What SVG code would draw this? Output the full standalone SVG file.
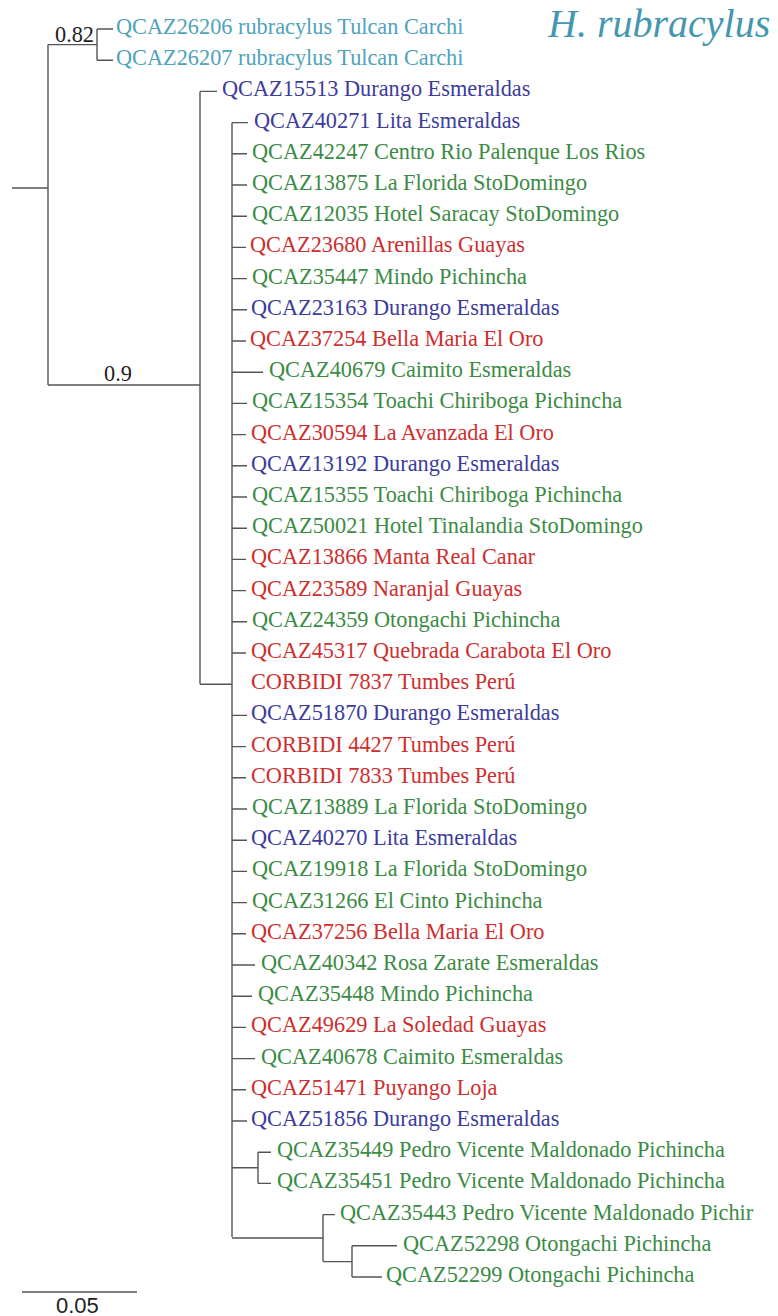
<svg xmlns="http://www.w3.org/2000/svg" width="778" height="1316" viewBox="0 0 778 1316">
<style>
text{font-family:"Liberation Serif","Times New Roman",serif;font-size:22.3px}
.t{fill:#4fa3ba}.b{fill:#3c3c9c}.g{fill:#3b8b45}.r{fill:#cf2e2e}.k{fill:#222}
.ttl{font-style:italic;font-size:40px;fill:#4596b0}
.sc{font-family:"Liberation Sans",Arial,sans-serif;font-size:22px;fill:#222}
.ln{fill:none;stroke:#555;stroke-width:1.4}
</style>
<rect width="778" height="1316" fill="#fff"/>
<g id="connectors" class="ln">
<path d="M12 188H48M48 44.6V385M48 44.6H97M97 29V60.2M97 29H113M97 60.2H113M48 385H200M200 91.4V684.2M200 91.4H217M200 684.2H232M232 122.6V1237"/>
<path d="M232 122.6H248M232 153.8H247M232 185H247M232 216.2H247M232 247.4H246M232 278.6H247M232 309.8H247M232 341H246M232 372.2H263M232 403.4H247M232 434.6H246M232 465.8H247M232 497H247M232 528.2H247M232 559.4H246M232 590.6H246M232 621.8H247M232 653H246M232 715.4H247M232 746.6H246M232 777.8H246M232 809H247M232 840.2H247M232 871.4H247M232 902.6H247M232 933.8H246M232 965H255M232 996.2H252M232 1027.4H246M232 1058.6H255M232 1089.8H246M232 1121H247"/>
<path d="M232 1167.8H258M258 1152.2V1183.4M258 1152.2H271M258 1183.4H271M232 1238H323M323 1214.6V1261.6M323 1214.6H335M323 1261.6H352M352 1245.8V1277M352 1245.8H397M352 1277H382"/>
<path d="M22 1292H137"/>
</g>
<g id="labels">
<text class="k" x="55" y="42">0.82</text>
<text class="k" x="104" y="381">0.9</text>
<text class="ttl" x="548" y="37">H. rubracylus</text>
<text class="sc" x="56" y="1313">0.05</text>
</g>
<g id="tips">
<g id="n1"><text class="t" x="116" y="34">QCAZ26206 rubracylus Tulcan Carchi</text></g>
<g id="n2"><text class="t" x="116" y="65.2">QCAZ26207 rubracylus Tulcan Carchi</text></g>
<g id="n3"><text class="b" x="222" y="96.4">QCAZ15513 Durango Esmeraldas</text></g>
<g id="n4"><text class="b" x="254" y="127.6">QCAZ40271 Lita Esmeraldas</text></g>
<g id="n5"><text class="g" x="252" y="158.8">QCAZ42247 Centro Rio Palenque Los Rios</text></g>
<g id="n6"><text class="g" x="252" y="190">QCAZ13875 La Florida StoDomingo</text></g>
<g id="n7"><text class="g" x="252" y="221.2">QCAZ12035 Hotel Saracay StoDomingo</text></g>
<g id="n8"><text class="r" x="250" y="252.4">QCAZ23680 Arenillas Guayas</text></g>
<g id="n9"><text class="g" x="252" y="283.6">QCAZ35447 Mindo Pichincha</text></g>
<g id="n10"><text class="b" x="251" y="314.8">QCAZ23163 Durango Esmeraldas</text></g>
<g id="n11"><text class="r" x="250" y="346">QCAZ37254 Bella Maria El Oro</text></g>
<g id="n12"><text class="g" x="269" y="377.2">QCAZ40679 Caimito Esmeraldas</text></g>
<g id="n13"><text class="g" x="252" y="408.4">QCAZ15354 Toachi Chiriboga Pichincha</text></g>
<g id="n14"><text class="r" x="251" y="439.6">QCAZ30594 La Avanzada El Oro</text></g>
<g id="n15"><text class="b" x="251" y="470.8">QCAZ13192 Durango Esmeraldas</text></g>
<g id="n16"><text class="g" x="252" y="502">QCAZ15355 Toachi Chiriboga Pichincha</text></g>
<g id="n17"><text class="g" x="252" y="533.2">QCAZ50021 Hotel Tinalandia StoDomingo</text></g>
<g id="n18"><text class="r" x="251" y="564.4">QCAZ13866 Manta Real Canar</text></g>
<g id="n19"><text class="r" x="251" y="595.6">QCAZ23589 Naranjal Guayas</text></g>
<g id="n20"><text class="g" x="252" y="626.8">QCAZ24359 Otongachi Pichincha</text></g>
<g id="n21"><text class="r" x="251" y="658">QCAZ45317 Quebrada Carabota El Oro</text></g>
<g id="n22"><text class="r" x="251" y="689.2">CORBIDI 7837 Tumbes Perú</text></g>
<g id="n23"><text class="b" x="251" y="720.4">QCAZ51870 Durango Esmeraldas</text></g>
<g id="n24"><text class="r" x="251" y="751.6">CORBIDI 4427 Tumbes Perú</text></g>
<g id="n25"><text class="r" x="251" y="782.8">CORBIDI 7833 Tumbes Perú</text></g>
<g id="n26"><text class="g" x="252" y="814">QCAZ13889 La Florida StoDomingo</text></g>
<g id="n27"><text class="b" x="251" y="845.2">QCAZ40270 Lita Esmeraldas</text></g>
<g id="n28"><text class="g" x="252" y="876.4">QCAZ19918 La Florida StoDomingo</text></g>
<g id="n29"><text class="g" x="252" y="907.6">QCAZ31266 El Cinto Pichincha</text></g>
<g id="n30"><text class="r" x="251" y="938.8">QCAZ37256 Bella Maria El Oro</text></g>
<g id="n31"><text class="g" x="261" y="970">QCAZ40342 Rosa Zarate Esmeraldas</text></g>
<g id="n32"><text class="g" x="258" y="1001.2">QCAZ35448 Mindo Pichincha</text></g>
<g id="n33"><text class="r" x="251" y="1032.4">QCAZ49629 La Soledad Guayas</text></g>
<g id="n34"><text class="g" x="261" y="1063.6">QCAZ40678 Caimito Esmeraldas</text></g>
<g id="n35"><text class="r" x="251" y="1094.8">QCAZ51471 Puyango Loja</text></g>
<g id="n36"><text class="b" x="251" y="1126">QCAZ51856 Durango Esmeraldas</text></g>
<g id="n37"><text class="g" x="277" y="1157.2">QCAZ35449 Pedro Vicente Maldonado Pichincha</text></g>
<g id="n38"><text class="g" x="277" y="1188.4">QCAZ35451 Pedro Vicente Maldonado Pichincha</text></g>
<g id="n39"><text class="g" x="340" y="1219.6">QCAZ35443 Pedro Vicente Maldonado Pichir</text></g>
<g id="n40"><text class="g" x="403" y="1250.8">QCAZ52298 Otongachi Pichincha</text></g>
<g id="n41"><text class="g" x="386" y="1282">QCAZ52299 Otongachi Pichincha</text></g>
</g>
</svg>
